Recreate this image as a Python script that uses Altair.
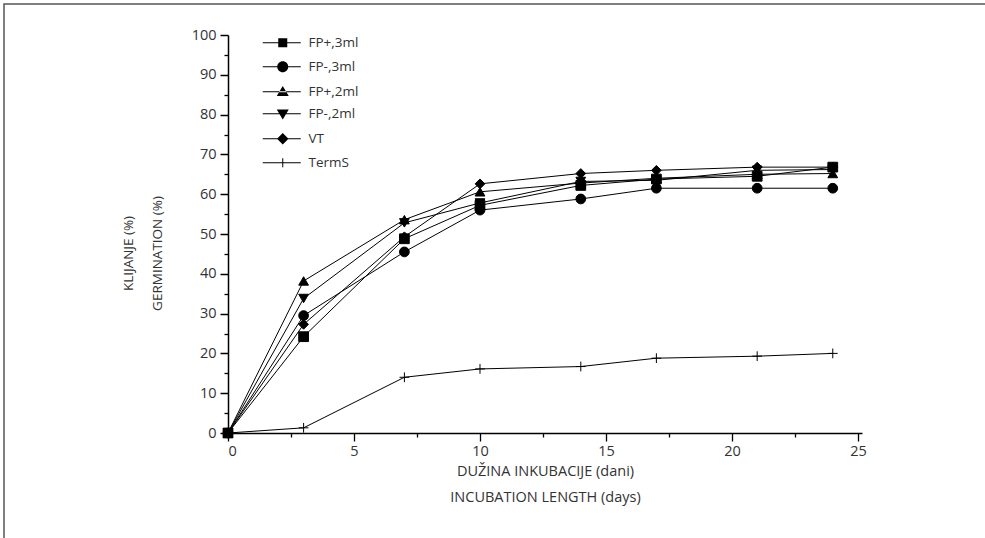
import altair as alt
import pandas as pd

# ---- data ----
days = [0, 3, 7, 10, 14, 17, 21, 24]
series_names = ["FP+,3ml", "FP-,3ml", "FP+,2ml", "FP-,2ml", "VT", "TermS"]
fp_plus_3ml = [0, 24.2, 48.8, 57.2, 62.2, 63.8, 64.5, 66.8]
fp_minus_3ml = [0, 29.5, 45.5, 56.0, 58.8, 61.5, 61.5, 61.5]
fp_plus_2ml = [0, 38.2, 53.6, 60.6, 62.8, 64.0, 65.0, 65.2]
fp_minus_2ml = [0, 33.8, 52.8, 57.8, 63.2, 63.5, 66.0, 66.2]
vt = [0, 27.3, 49.3, 62.6, 65.2, 66.0, 66.8, 66.8]
terms = [0, 1.3, 14.0, 16.1, 16.7, 18.8, 19.3, 20.0]

x_ticks = [0, 2.5, 5, 7.5, 10, 12.5, 15, 17.5, 20, 22.5, 25]
y_ticks = [0, 5, 10, 15, 20, 25, 30, 35, 40, 45, 50, 55, 60, 65, 70, 75, 80, 85, 90, 95, 100]

all_vals = [fp_plus_3ml, fp_minus_3ml, fp_plus_2ml, fp_minus_2ml, vt, terms]
rows = []
for name, vals in zip(series_names, all_vals):
    for d, v in zip(days, vals):
        rows.append({"day": d, "value": v, "series": name})
df = pd.DataFrame(rows)

FONT = "Open Sans"
TXT = "#333333"

plot_shapes = ["square", "circle", "triangle-up", "triangle-down", "diamond", "M-1,0H1M0,-1V1"]
# legend symbols: a thin filled bar (the line) plus the marker, all fill-only
LINE = "M-7.4,-0.1H0.2V0.1H-7.4Z"
legend_shapes = [
    LINE + "M-4.3,-0.9H-2.5V0.9H-4.3Z",
    LINE + "M-2.3,0A1.05,1.05,0,1,1,-4.5,0A1.05,1.05,0,1,1,-2.3,0Z",
    LINE + "M-4.6,0.85L-2.2,0.85L-3.4,-1.15Z",
    LINE + "M-4.6,-0.85L-2.2,-0.85L-3.4,1.15Z",
    LINE + "M-3.4,-1.15L-2.25,0L-3.4,1.15L-4.55,0Z",
    LINE + "M-3.5,-0.9H-3.3V0.9H-3.5Z",
]

x_enc = alt.X(
    "day:Q",
    scale=alt.Scale(domain=[0, 25.16], nice=False, zero=False),
    axis=alt.Axis(
        values=x_ticks,
        labelExpr="datum.value % 5 == 0 ? format(datum.value, 'd') : ''",
        tickSize=8,
        tickDash={"condition": {"test": "datum.value % 5 != 0", "value": [4, 50]}, "value": [1, 0]},
        title=["DUŽINA INKUBACIJE (dani)", "INCUBATION LENGTH (days)"],
        titleLineHeight=26,
        titlePadding=7,
        titleFontSize=14.5,
        labelPadding=3,
        grid=False,
    ),
)
y_enc = alt.Y(
    "value:Q",
    scale=alt.Scale(domain=[0, 100], nice=False),
    axis=alt.Axis(
        values=y_ticks,
        labelExpr="datum.value % 10 == 0 ? format(datum.value, 'd') : ''",
        tickSize=8,
        tickDash={"condition": {"test": "datum.value % 10 != 0", "value": [4, 50]}, "value": [1, 0]},
        title=["KLIJANJE (%)", "GERMINATION (%)"],
        titleLineHeight=29,
        titlePadding=27,
        titleFontSize=13.5,
        titleY=218,
        labelPadding=4,
        grid=False,
    ),
)

lines = alt.Chart(df).mark_line(color="black", strokeWidth=1).encode(
    x=x_enc, y=y_enc, detail="series:N",
    order="day:Q",
)

points = alt.Chart(df).mark_point(
    filled=True, fill="black", stroke="black", strokeWidth=1, opacity=1, size=95
).encode(
    x=x_enc, y=y_enc,
    shape=alt.Shape("series:N", scale=alt.Scale(domain=series_names, range=plot_shapes), legend=None),
)

legend_layer = alt.Chart(df).mark_point(
    filled=True, fill="black"
).encode(
    shape=alt.Shape(
        "series:N",
        scale=alt.Scale(domain=series_names, range=legend_shapes),
        legend=alt.Legend(
            title=None, orient="none", legendX=65, legendY=1,
            symbolSize=100, symbolFillColor="black", symbolOpacity=1,
            labelFont=FONT, labelFontSize=13.5, labelColor=TXT, labelOffset=2,
            rowPadding=7, padding=0,
        ),
    ),
).transform_filter("false")

frame = alt.Chart(pd.DataFrame({"k": [0]})).mark_rect(
    fill=None, stroke="#555555", strokeWidth=1.5
).encode(
    x=alt.value(-224), y=alt.value(-31), x2=alt.value(900), y2=alt.value(600)
)

chart = alt.layer(frame, lines, points, legend_layer).resolve_scale(shape="independent").properties(
    width=634, height=398,
    autosize=alt.AutoSizeParams(type="none"),
    padding={"left": 228, "top": 35, "right": 123, "bottom": 105},
).configure_view(stroke=None).configure_axis(
    domainColor="black", domainWidth=1.5, tickColor="black", tickWidth=1.3,
    labelFont=FONT, labelFontSize=14.5, labelColor=TXT,
    titleFont=FONT, titleColor=TXT, titleFontWeight="normal",
)

chart.save("out.html", embed_options={"renderer": "svg", "actions": False})
